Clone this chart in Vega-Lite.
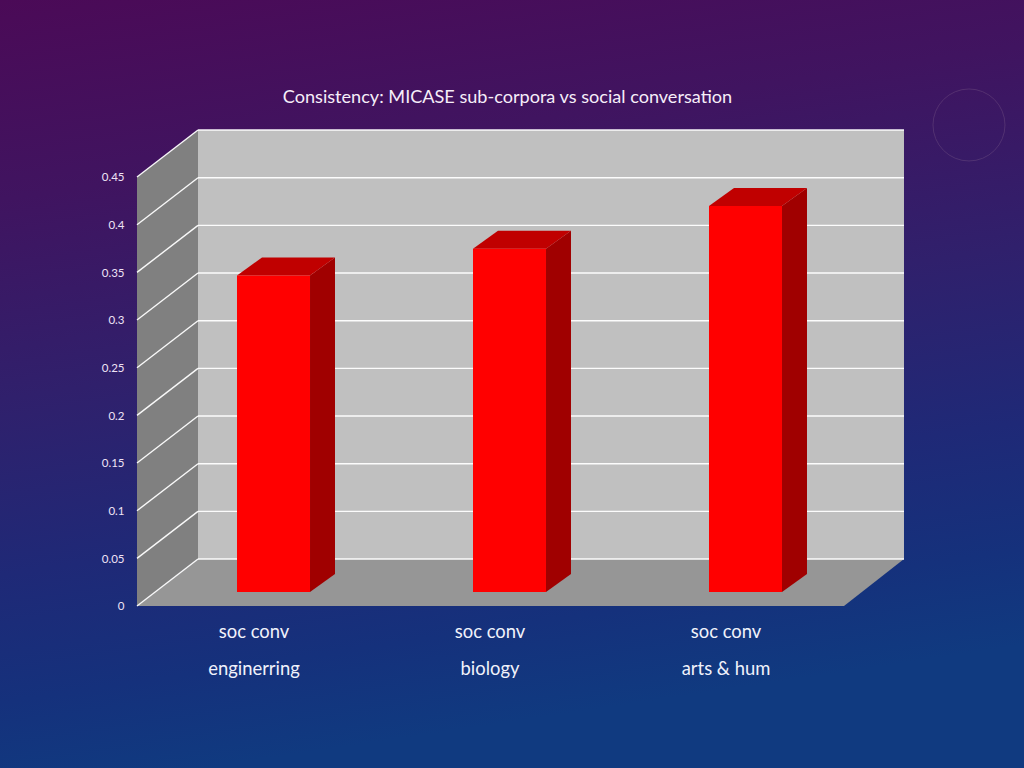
{
"$schema":"https://vega.github.io/schema/vega-lite/v6.json",
"width":1024,"height":768,"autosize":"none","padding":0,
"background":"#2a2168",
"view":{"stroke":null,"fill":{"gradient":"linear","x1":0,"y1":0,"x2":0.2,"y2":1,"stops":[{"offset":0,"color":"#4b0a57"},{"offset":0.25,"color":"#401460"},{"offset":0.5,"color":"#30206c"},{"offset":0.72,"color":"#1f2977"},{"offset":0.88,"color":"#15317c"},{"offset":1,"color":"#103a80"}]}},
"title":{"text":"Consistency: MICASE sub-corpora vs social conversation","orient":"top","anchor":"middle","offset":-107,"dx":-4.5,"fontSize":18.1,"font":"Lato","fontWeight":"normal","color":"#f6eef9"},
"config":{"font":"Lato"},
"datasets":{
"walls":[
{"part":"side wall","x":0.4216,"y":0.45,"y2":0},
{"part":"side wall","x":0.6801,"y":0.4993,"y2":0.0493},
{"part":"back wall","x":0.6801,"y":0.4993,"y2":0.0493},
{"part":"back wall","x":3.6716,"y":0.4993,"y2":0.0493},
{"part":"floor","x":0.4216,"y":0,"y2":0},
{"part":"floor","x":0.6801,"y":0.0493,"y2":0},
{"part":"floor","x":3.4174,"y":0.0493,"y2":0},
{"part":"floor","x":3.6716,"y":0.0493,"y2":0.0493}
],
"grid":[
{"level":0,"x":0.4216,"x2":0.6801,"y":0,"y2":0.0493,"w":"side"},
{"level":0.05,"x":0.4216,"x2":0.6801,"y":0.05,"y2":0.0993,"w":"side"},
{"level":0.1,"x":0.4216,"x2":0.6801,"y":0.1,"y2":0.1493,"w":"side"},
{"level":0.15,"x":0.4216,"x2":0.6801,"y":0.15,"y2":0.1993,"w":"side"},
{"level":0.2,"x":0.4216,"x2":0.6801,"y":0.2,"y2":0.2493,"w":"side"},
{"level":0.25,"x":0.4216,"x2":0.6801,"y":0.25,"y2":0.2993,"w":"side"},
{"level":0.3,"x":0.4216,"x2":0.6801,"y":0.3,"y2":0.3493,"w":"side"},
{"level":0.35,"x":0.4216,"x2":0.6801,"y":0.35,"y2":0.3993,"w":"side"},
{"level":0.4,"x":0.4216,"x2":0.6801,"y":0.4,"y2":0.4493,"w":"side"},
{"level":0.45,"x":0.4216,"x2":0.6801,"y":0.45,"y2":0.4993,"w":"side"},
{"level":0,"x":0.6801,"x2":3.6716,"y":0.0493,"y2":0.0493,"w":"back"},
{"level":0.05,"x":0.6801,"x2":3.6716,"y":0.0993,"y2":0.0993,"w":"back"},
{"level":0.1,"x":0.6801,"x2":3.6716,"y":0.1493,"y2":0.1493,"w":"back"},
{"level":0.15,"x":0.6801,"x2":3.6716,"y":0.1993,"y2":0.1993,"w":"back"},
{"level":0.2,"x":0.6801,"x2":3.6716,"y":0.2493,"y2":0.2493,"w":"back"},
{"level":0.25,"x":0.6801,"x2":3.6716,"y":0.2993,"y2":0.2993,"w":"back"},
{"level":0.3,"x":0.6801,"x2":3.6716,"y":0.3493,"y2":0.3493,"w":"back"},
{"level":0.35,"x":0.6801,"x2":3.6716,"y":0.3993,"y2":0.3993,"w":"back"},
{"level":0.4,"x":0.6801,"x2":3.6716,"y":0.4493,"y2":0.4493,"w":"back"},
{"level":0.45,"x":0.6801,"x2":3.6716,"y":0.4993,"y2":0.4993,"w":"back"}
],
"faces":[
{"bar":"enginerring","face":"bar side","x":1.1547,"y":0.3467,"y2":0.0147},
{"bar":"enginerring","face":"bar side","x":1.2606,"y":0.3656,"y2":0.0336},
{"bar":"enginerring","face":"bar top","x":0.8453,"y":0.3467,"y2":0.3467},
{"bar":"enginerring","face":"bar top","x":0.9512,"y":0.3656,"y2":0.3467},
{"bar":"enginerring","face":"bar top","x":1.1547,"y":0.3656,"y2":0.3467},
{"bar":"enginerring","face":"bar top","x":1.2606,"y":0.3656,"y2":0.3656},
{"bar":"biology","face":"bar side","x":2.1547,"y":0.3747,"y2":0.0147},
{"bar":"biology","face":"bar side","x":2.2606,"y":0.3936,"y2":0.0336},
{"bar":"biology","face":"bar top","x":1.8453,"y":0.3747,"y2":0.3747},
{"bar":"biology","face":"bar top","x":1.9512,"y":0.3936,"y2":0.3747},
{"bar":"biology","face":"bar top","x":2.1547,"y":0.3936,"y2":0.3747},
{"bar":"biology","face":"bar top","x":2.2606,"y":0.3936,"y2":0.3936},
{"bar":"arts & hum","face":"bar side","x":3.1547,"y":0.4197,"y2":0.0147},
{"bar":"arts & hum","face":"bar side","x":3.2606,"y":0.4386,"y2":0.0336},
{"bar":"arts & hum","face":"bar top","x":2.8453,"y":0.4197,"y2":0.4197},
{"bar":"arts & hum","face":"bar top","x":2.9512,"y":0.4386,"y2":0.4197},
{"bar":"arts & hum","face":"bar top","x":3.1547,"y":0.4386,"y2":0.4197},
{"bar":"arts & hum","face":"bar top","x":3.2606,"y":0.4386,"y2":0.4386}
],
"bars":[
{"series":"soc conv","subcorpus":"enginerring","slot":1,"value":0.332},
{"series":"soc conv","subcorpus":"biology","slot":2,"value":0.36},
{"series":"soc conv","subcorpus":"arts & hum","slot":3,"value":0.405}
],
"ring":[{"x":3.947,"y":0.5046}]
},
"layer":[
{"data":{"name":"ring"},
 "mark":{"type":"point","shape":"circle","filled":false,"size":5184,"stroke":"#8a6a90","strokeWidth":1,"opacity":0.3},
 "encoding":{
  "x":{"field":"x","type":"quantitative","scale":{"domain":[-0.1589,4.1801],"nice":false,"zero":false,"padding":0},"axis":null},
  "y":{"field":"y","type":"quantitative","scale":{"domain":[-0.1699,0.6357],"nice":false,"zero":false,"padding":0},
   "axis":{"title":null,"values":[0,0.05,0.1,0.15,0.2,0.25,0.3,0.35,0.4,0.45],"format":"~g","offset":-137,"domain":false,"ticks":false,"grid":false,"labelPadding":13,"labelOffset":0.7,"labelFontSize":11.5,"labelColor":"#efe3f5","labelFont":"Lato"}}
 }},
{"data":{"name":"walls"},
 "mark":{"type":"area","interpolate":"linear","stroke":null},
 "encoding":{
  "x":{"field":"x","type":"quantitative"},
  "y":{"field":"y","type":"quantitative"},
  "y2":{"field":"y2"},
  "color":{"field":"part","type":"nominal","legend":null,"scale":{"domain":["side wall","back wall","floor","bar side","bar top"],"range":["#808080","#c0c0c0","#969696","#a00000","#c00000"]}}
 }},
{"data":{"name":"grid"},
 "mark":{"type":"rule","color":"#ffffff","strokeWidth":1.4,"opacity":0.95},
 "encoding":{
  "x":{"field":"x","type":"quantitative"},"x2":{"field":"x2"},
  "y":{"field":"y","type":"quantitative"},"y2":{"field":"y2"}
 }},
{"data":{"name":"faces"},
 "mark":{"type":"area","interpolate":"linear"},
 "encoding":{
  "x":{"field":"x","type":"quantitative"},
  "y":{"field":"y","type":"quantitative"},
  "y2":{"field":"y2"},
  "detail":{"field":"bar"},
  "color":{"field":"face","type":"nominal","legend":null}
 }},
{"data":{"name":"bars"},
 "mark":{"type":"bar","orient":"vertical","size":73,"color":"#ff0000","yOffset":-14,"y2Offset":-14},
 "encoding":{
  "x":{"field":"slot","type":"quantitative"},
  "y":{"field":"value","type":"quantitative"},
  "y2":{"datum":0}
 }},
{"data":{"name":"bars"},
 "mark":{"type":"text","xOffset":-19.5,"yOffset":26,"fontSize":18.4,"font":"Lato","color":"#f0f2fb"},
 "encoding":{
  "x":{"field":"slot","type":"quantitative"},
  "y":{"datum":0},
  "text":{"field":"series"}
 }},
{"data":{"name":"bars"},
 "mark":{"type":"text","xOffset":-19.5,"yOffset":63,"fontSize":18.4,"font":"Lato","color":"#f0f2fb"},
 "encoding":{
  "x":{"field":"slot","type":"quantitative"},
  "y":{"datum":0},
  "text":{"field":"subcorpus"}
 }}
]
}
